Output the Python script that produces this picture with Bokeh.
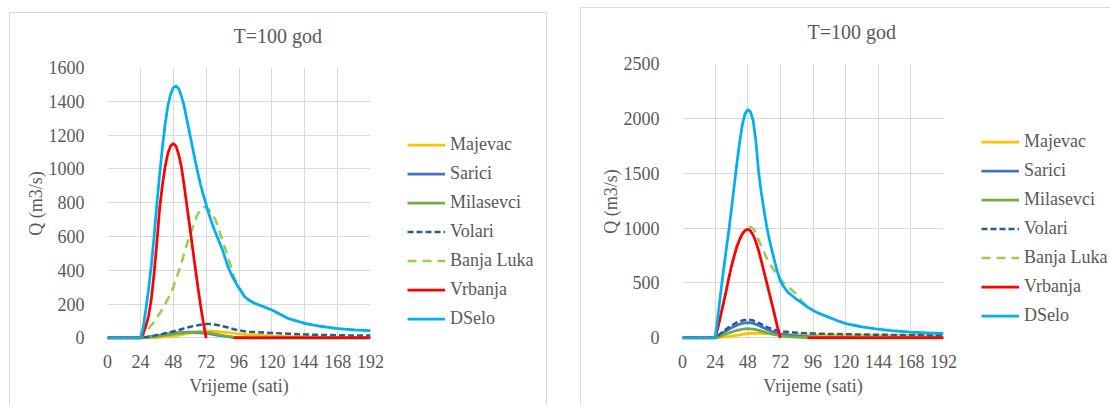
import numpy as np
from bokeh.plotting import figure
from bokeh.models import Range1d, FixedTicker, Legend, LegendItem
from bokeh.layouts import row
from bokeh.embed import file_html
from bokeh.resources import INLINE

nan = np.nan

# time axis (hours)
HOURS = [0, 6, 12, 18, 24,
         26, 28, 30, 32, 34, 36, 38, 40, 42, 44, 46, 48, 50, 52, 54,
         56, 58, 60, 62, 64, 66, 68, 70, 72, 74, 76, 78, 80,
         84, 88, 92, 96, 100, 104, 108,
         114, 120,
         132, 144, 156, 168, 180, 192]

X_TICKS = [0, 24, 48, 72, 96, 120, 144, 168, 192]
Y_TICKS_A = [0, 200, 400, 600, 800, 1000, 1200, 1400, 1600]
Y_TICKS_B = [0, 500, 1000, 1500, 2000, 2500]

SERIES = ["Majevac", "Sarici", "Milasevci", "Volari", "Banja Luka", "Vrbanja", "DSelo"]

# ---- first chart: discharge (m3/s) ----
MAJEVAC_A = [0, 0, 0, 0, 0,
             0, 1, 1, 2, 2, 3, 4, 5, 7, 8, 10, 12, 14, 17, 20,
             23, 26, 29, 31, 34, 36, 38, 39, 40, 40, 40, 39, 38,
             35, 32, 28, 25, 22, 20, 18,
             15, 13,
             10, 8, 6, 5, 4, 4]
SARICI_A = [0, 0, 0, 0, 0,
            2, 4, 6, 9, 11, 14, 16, 19, 22, 24, 26, 28, 30, 31, 32,
            33, 34, 34, 34, 33, 32, 30, 29, 27, 25, 22, 20, 17,
            12, 8, 5, 3, 2, 1, 1,
            1, 0,
            0, 0, 0, 0, 0, 0]
MILASEVCI_A = [0, 0, 0, 0, 0,
               1, 2, 4, 6, 8, 10, 12, 14, 17, 19, 21, 23, 25, 27, 28,
               30, 31, 32, 33, 34, 34, 34, 33, 32, 30, 27, 24, 21,
               14, 8, 3, 1, 0, 0, 0,
               0, 0,
               0, 0, 0, 0, 0, 0]
VOLARI_A = [0, 0, 0, 0, 0,
            2, 5, 8, 11, 14, 18, 21, 24, 28, 31, 35, 39, 43, 47, 52,
            57, 61, 65, 69, 72, 75, 78, 80, 82, 83, 82, 80, 77,
            70, 62, 52, 45, 40, 37, 35,
            32, 30,
            25, 21, 18, 16, 15, 14]
BANJA_LUKA_A = [0, 0, 0, 0, 0,
                15, 35, 55, 75, 95, 120, 145, 170, 200, 230, 260, 300, 345, 395, 445,
                500, 555, 608, 648, 695, 735, 760, 775, 772, 760, 740, 712, 675,
                575, 480, 370, 295, 245, 220, 203,
                185, 165,
                115, 86, 68, 56, 48, 43]
VRBANJA_A = [0, 0, 0, 0, 0,
             25, 70, 130, 230, 380, 560, 760, 900, 1010, 1090, 1135, 1150, 1135, 1085, 1010,
             900, 780, 660, 540, 420, 300, 190, 90, 0, nan, nan, nan, nan,
             nan, nan, 0, 0, 0, 0, 0,
             0, 0,
             0, 0, 0, 0, 0, 0]
DSELO_A = [0, 0, 0, 0, 0,
           60, 170, 290, 430, 600, 790, 960, 1120, 1260, 1370, 1440, 1480, 1490, 1475, 1430,
           1370, 1290, 1210, 1130, 1050, 975, 905, 845, 790, 735, 685, 640, 600,
           520, 420, 350, 295, 245, 220, 203,
           185, 165,
           115, 86, 68, 56, 48, 43]

# ---- second chart: discharge (m3/s) ----
MAJEVAC_B = [0, 0, 0, 0, 0,
             2, 4, 6, 9, 12, 15, 19, 23, 27, 31, 35, 38, 40, 41, 41,
             41, 40, 39, 38, 37, 36, 35, 34, 33, 32, 31, 31, 30,
             29, 28, 27, 26, 26, 25, 25,
             24, 24,
             23, 22, 21, 21, 20, 20]
SARICI_B = [0, 0, 0, 0, 0,
            15, 31, 47, 63, 78, 92, 104, 115, 124, 131, 136, 138, 136, 131, 123,
            112, 101, 90, 79, 68, 58, 50, 43, 37, 32, 28, 25, 22,
            17, 13, 10, 8, 6, 5, 4,
            3, 3,
            2, 2, 1, 1, 1, 1]
MILASEVCI_B = [0, 0, 0, 0, 0,
               8, 17, 26, 35, 44, 52, 60, 67, 73, 78, 81, 83, 82, 79, 74,
               68, 61, 54, 47, 40, 34, 28, 23, 19, 16, 13, 11, 9,
               6, 4, 2, 1, 1, 0, 0,
               0, 0,
               0, 0, 0, 0, 0, 0]
VOLARI_B = [0, 0, 0, 0, 0,
            18, 38, 58, 78, 95, 112, 126, 140, 150, 158, 163, 165, 163, 157, 148,
            137, 124, 112, 100, 89, 80, 72, 66, 62, 58, 55, 52, 50,
            47, 44, 42, 40, 38, 37, 35,
            34, 32,
            30, 28, 26, 25, 24, 23]
BANJA_LUKA_B = [0, 0, 0, 0, 0,
                85, 190, 300, 415, 540, 655, 755, 840, 905, 955, 985, 1002, 1010, 995, 955,
                890, 835, 780, 725, 680, 640, 605, 570, 535, 505, 478, 458, 440,
                395, 330, 285, 250, 225, 205, 185,
                155, 130,
                100, 78, 62, 52, 45, 40]
VRBANJA_B = [0, 0, 0, 0, 0,
             90, 200, 310, 420, 540, 650, 745, 830, 895, 945, 978, 990, 975, 935, 875,
             795, 700, 600, 500, 400, 300, 195, 90, 0, nan, nan, nan, nan,
             nan, nan, 0, 0, 0, 0, 0,
             0, 0,
             0, 0, 0, 0, 0, 0]
DSELO_B = [0, 0, 0, 0, 0,
           190, 400, 600, 790, 970, 1170, 1380, 1590, 1780, 1940, 2040, 2080, 2060, 1980, 1790,
           1510, 1320, 1160, 1010, 890, 785, 685, 595, 515, 475, 440, 410, 390,
           350, 315, 280, 250, 225, 205, 185,
           155, 130,
           100, 78, 62, 52, 45, 40]

FONT = "Liberation Serif"
TEXT = "#595959"
GRID = "#d9d9d9"

STYLE = {
    "Majevac":    ("#FFC000", "solid", 2.75),
    "Sarici":     ("#4472C4", "solid", 2.75),
    "Milasevci":  ("#70AD47", "solid", 2.75),
    "Volari":     ("#255E91", "6 3", 2.5),
    "Banja Luka": ("#92D050", "9 6", 2.5),
    "Vrbanja":    ("#FF0000", "solid", 2.75),
    "DSelo":      ("#00B0F0", "solid", 2.75),
}

BORDER_TOP = 63     # space above every plot frame
BORDER_BOTTOM = 66  # space below every plot frame


def hline(y):
    return f"linear-gradient({GRID},{GRID}) 0 {y}px / 100% 1px no-repeat"


def vline(side, y):
    return f"linear-gradient({GRID},{GRID}) {side} 0 top {y}px / 1px 100% no-repeat"


def plot_panel(values, y_max, y_pad, y_ticks, width, height, margin, left, right,
               title_offset, box_css):
    p = figure(width=width, height=height, margin=margin,
               x_range=Range1d(0, 192), y_range=Range1d(-y_pad, y_max),
               output_backend="svg", toolbar_location=None,
               min_border_left=left, min_border_right=right,
               min_border_top=BORDER_TOP, min_border_bottom=BORDER_BOTTOM)
    p.outline_line_color = None
    p.background_fill_color = "white"
    p.border_fill_color = None
    p.styles = {"background": box_css}

    # chart title, centred over the whole chart box
    p.title.text = "T=100 god"
    p.title.align = "left"
    p.title.vertical_align = "middle"
    p.title.offset = title_offset
    p.title.standoff = 39
    p.title.text_font = FONT
    p.title.text_font_size = "20px"
    p.title.text_font_style = "normal"
    p.title.text_color = TEXT

    p.xaxis.ticker = FixedTicker(ticks=X_TICKS)
    p.yaxis.ticker = FixedTicker(ticks=y_ticks)
    p.xgrid.ticker = FixedTicker(ticks=X_TICKS)
    p.ygrid.ticker = FixedTicker(ticks=y_ticks)
    for g in (p.xgrid, p.ygrid):
        g.grid_line_color = GRID
        g.grid_line_width = 1

    for ax in (p.xaxis, p.yaxis):
        ax.axis_line_color = None
        ax.major_tick_line_color = None
        ax.minor_tick_line_color = None
        ax.major_label_text_font = FONT
        ax.major_label_text_font_size = "18px"
        ax.major_label_text_color = TEXT
        ax.axis_label_text_font = FONT
        ax.axis_label_text_font_size = "18px"
        ax.axis_label_text_font_style = "normal"
        ax.axis_label_text_color = TEXT
    p.xaxis.axis_label = "Vrijeme (sati)"
    p.yaxis.axis_label = "Q (m3/s)"
    p.xaxis.major_label_standoff = 9
    p.xaxis.axis_label_standoff = 5
    p.yaxis.major_label_standoff = 17
    p.yaxis.axis_label_standoff = 0

    for name, ys in zip(SERIES, values):
        color, dash, lw = STYLE[name]
        p.line(HOURS, ys, line_color=color, line_dash=dash, line_width=lw)
    return p


def legend_panel(values, width, height, margin, legend_pos, box_css):
    # legend keys are drawn from the same series; the view window holds no data
    q = figure(width=width, height=height, margin=margin,
               x_range=Range1d(1000, 1001), y_range=Range1d(1000, 1001),
               x_axis_type=None, y_axis_type=None,
               output_backend="svg", toolbar_location=None,
               min_border_left=0, min_border_right=0,
               min_border_top=BORDER_TOP, min_border_bottom=BORDER_BOTTOM)
    q.title.visible = False
    q.outline_line_color = None
    q.background_fill_color = None
    q.border_fill_color = None
    q.grid.visible = False
    q.styles = {"background": box_css}
    items = []
    for name, ys in zip(SERIES, values):
        color, dash, lw = STYLE[name]
        r = q.line(HOURS, ys, line_color=color, line_dash=dash, line_width=lw)
        items.append(LegendItem(label=name, renderers=[r]))
    legend = Legend(items=items, location=legend_pos, orientation="vertical",
                    glyph_width=38, glyph_height=29, label_height=29,
                    spacing=0, padding=0, margin=0, label_standoff=5,
                    label_text_font=FONT, label_text_font_size="18px",
                    label_text_color=TEXT, border_line_color=None,
                    background_fill_alpha=0)
    q.add_layout(legend, "center")
    return q


VALUES_A = [MAJEVAC_A, SARICI_A, MILASEVCI_A, VOLARI_A, BANJA_LUKA_A, VRBANJA_A, DSELO_A]
VALUES_B = [MAJEVAC_B, SARICI_B, MILASEVCI_B, VOLARI_B, BANJA_LUKA_B, VRBANJA_B, DSELO_B]

# left chart: box x 9..547 from y 12, plot frame 107..370 x 67..339
p1 = plot_panel(VALUES_A, 1600, 9, Y_TICKS_A, 386, 401, (4, 0, 0, 9), 98, 25, 126,
                hline(8) + ", " + vline("left", 8))
l1 = legend_panel(VALUES_A, 152, 401, (4, 8, 0, 0), (12, 6),
                  hline(8) + ", " + vline("right", 8))

# right chart: box from x 580, y 7, plot frame 682..943 x 63..339
p2 = plot_panel(VALUES_B, 2500, 15.5, Y_TICKS_B, 379, 405, (0, 0, 0, 25), 102, 16, 125,
                hline(7) + ", " + vline("left", 7))
l2 = legend_panel(VALUES_B, 151, 405, (0, 0, 0, 0), (22, 9), hline(7))

layout = row(p1, l1, p2, l2)
open("out.html", "w").write(file_html(layout, INLINE))
